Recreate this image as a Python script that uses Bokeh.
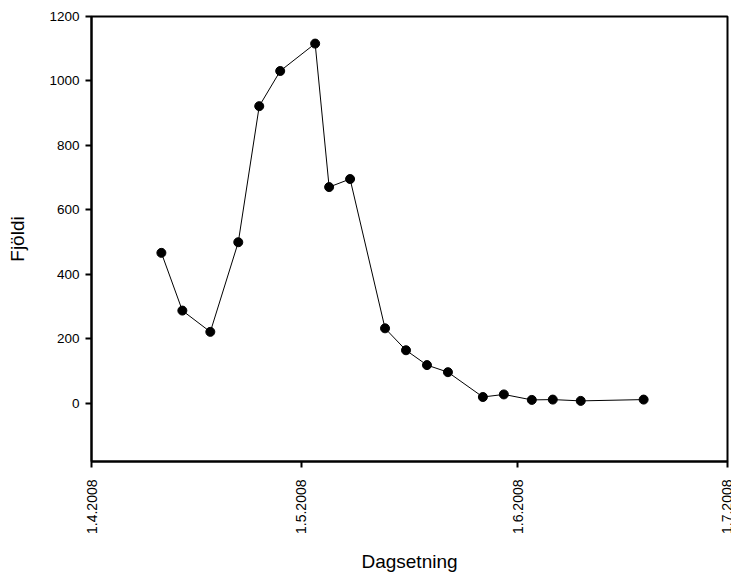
from datetime import datetime

from bokeh.embed import file_html
from bokeh.models import FixedTicker, Range1d
from bokeh.plotting import figure
from bokeh.resources import INLINE
import math

# Sampling dates and counts
dates = [
    "2008-04-11", "2008-04-14", "2008-04-18", "2008-04-22", "2008-04-25",
    "2008-04-28", "2008-05-03", "2008-05-05", "2008-05-08", "2008-05-13",
    "2008-05-16", "2008-05-19", "2008-05-22", "2008-05-27", "2008-05-30",
    "2008-06-03", "2008-06-06", "2008-06-10", "2008-06-19",
]
counts = [467, 288, 222, 500, 922, 1031, 1116, 671, 696, 233,
          165, 119, 97, 20, 28, 11, 12, 8, 12]

tick_dates = ["2008-04-01", "2008-05-01", "2008-06-01", "2008-07-01"]
tick_labels = ["1.4.2008", "1.5.2008", "1.6.2008", "1.7.2008"]
y_ticks = [0, 200, 400, 600, 800, 1000, 1200]

x = [datetime.strptime(d, "%Y-%m-%d") for d in dates]


def to_ms(d):
    return (datetime.strptime(d, "%Y-%m-%d") - datetime(1970, 1, 1)).total_seconds() * 1000.0


tick_ms = [to_ms(d) for d in tick_dates]

p = figure(
    width=731, height=575, x_axis_type="datetime",
    output_backend="svg", toolbar_location=None,
    x_range=Range1d(tick_ms[0], tick_ms[-1]),
    y_range=Range1d(-180, 1200),
    min_border_left=91, min_border_right=4,
    min_border_top=16, min_border_bottom=114,
)
p.background_fill_color = "white"
p.border_fill_color = "white"
p.outline_line_color = "black"
p.outline_line_width = 2
p.xgrid.visible = False
p.ygrid.visible = False

p.line(x, counts, line_color="black", line_width=1)
p.scatter(x, counts, size=9, fill_color="black", line_color="black")

font = "Liberation Sans"
for ax in (p.xaxis, p.yaxis):
    ax.axis_line_width = 2
    ax.axis_line_color = "black"
    ax.major_tick_line_width = 2
    ax.major_tick_out = 6
    ax.major_tick_in = 0
    ax.minor_tick_line_color = None
    ax.major_label_text_font = font
    ax.major_label_text_color = "black"
    ax.axis_label_text_font = font
    ax.axis_label_text_font_style = "normal"
    ax.axis_label_text_color = "black"

p.xaxis.ticker = FixedTicker(ticks=tick_ms)
p.xaxis.major_label_overrides = dict(zip(tick_ms, tick_labels))
p.xaxis.major_label_orientation = math.pi / 2
p.xaxis.major_label_text_font_size = "14px"
p.xaxis.major_label_standoff = 12
p.xaxis.axis_label = "Dagsetning"
p.xaxis.axis_label_text_font_size = "19px"
p.xaxis.axis_label_standoff = 14

p.yaxis.ticker = FixedTicker(ticks=y_ticks)
p.yaxis.major_label_text_font_size = "13.5px"
p.yaxis.major_label_standoff = 6
p.yaxis.axis_label = "Fjöldi"
p.yaxis.axis_label_text_font_size = "19px"
p.yaxis.axis_label_standoff = 18

open("out.html", "w").write(file_html(p, INLINE))
